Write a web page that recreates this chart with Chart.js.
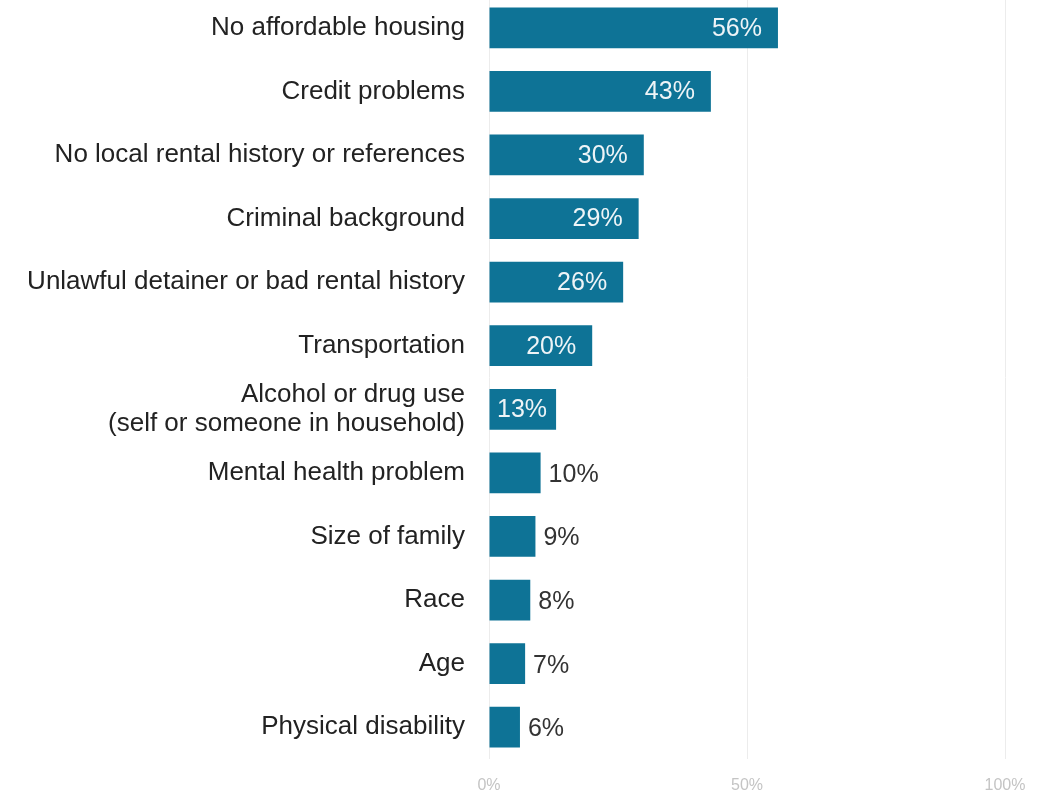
<!DOCTYPE html>
<html>
<head>
<meta charset="utf-8">
<script src="https://cdn.jsdelivr.net/npm/chart.js@4"></script>
<style>
  html, body { margin: 0; padding: 0; background: #fff; overflow: hidden; }
  #wrap { position: absolute; left: 0; top: -4px; width: 1055px; height: 799px; }
</style>
</head>
<body>
<div id="wrap"><canvas id="chart"></canvas></div>
<script>
// Barriers to finding housing (% of respondents)
const categories = [
    'No affordable housing',
    'Credit problems',
    'No local rental history or references',
    'Criminal background',
    'Unlawful detainer or bad rental history',
    'Transportation',
    ['Alcohol or drug use', '(self or someone in household)'],
    'Mental health problem',
    'Size of family',
    'Race',
    'Age',
    'Physical disability'
];
const percents = [56, 43, 30, 29, 26, 20, 13, 10, 9, 8, 7, 6];
const xTicks = [0, 50, 100];

// Value labels: inside the bar for the long ones, just past the end for short ones
const valueLabels = {
    id: 'valueLabels',
    afterDatasetsDraw(chart) {
        const ctx = chart.ctx;
        const meta = chart.getDatasetMeta(0);
        ctx.save();
        ctx.font = '25px "Liberation Sans", Arial, sans-serif';
        ctx.textBaseline = 'middle';
        meta.data.forEach((bar, i) => {
            const v = percents[i];
            const txt = v + '%';
            if (v >= 13) {
                ctx.fillStyle = '#eef4f7';
                ctx.textAlign = 'right';
                ctx.fillText(txt, bar.x - (v >= 20 ? 16 : 9), bar.y + 1);
            } else {
                ctx.fillStyle = '#333';
                ctx.textAlign = 'left';
                ctx.fillText(txt, bar.x + 8, bar.y + 2);
            }
        });
        ctx.restore();
    }
};

new Chart(document.getElementById('chart'), {
    type: 'bar',
    data: {
        labels: categories,
        datasets: [{
            data: percents,
            backgroundColor: '#0e7396',
            borderWidth: 0,
            categoryPercentage: 1,
            barPercentage: 0.64
        }]
    },
    options: {
        indexAxis: 'y',
        responsive: true,
        maintainAspectRatio: false,
        animation: false,
        layout: { padding: { top: 0, right: 50, bottom: 0, left: 0 } },
        plugins: { legend: { display: false }, tooltip: { enabled: false } },
        scales: {
            x: {
                min: 0,
                max: 100,
                afterBuildTicks: (scale) => { scale.ticks = xTicks.map(v => ({ value: v })); },
                afterFit: (scale) => {
                    scale.height = 36;
                    scale.paddingLeft = 0;
                    scale.paddingRight = 0;
                },
                border: { display: false },
                grid: { color: '#ececec', drawTicks: false },
                ticks: {
                    padding: 17,
                    color: '#c4c4c4',
                    font: { family: '"Liberation Sans", Arial, sans-serif', size: 16 },
                    callback: (v) => v + '%'
                }
            },
            y: {
                afterFit: (scale) => {
                    scale.width = 489;
                    scale.paddingTop = 0;
                    scale.paddingBottom = 0;
                },
                border: { display: false },
                grid: { display: false, drawTicks: false },
                ticks: {
                    padding: 24,
                    color: '#222',
                    font: { family: '"Liberation Sans", Arial, sans-serif', size: 26, lineHeight: 1.12 }
                }
            }
        }
    },
    plugins: [valueLabels]
});
</script>
</body>
</html>
